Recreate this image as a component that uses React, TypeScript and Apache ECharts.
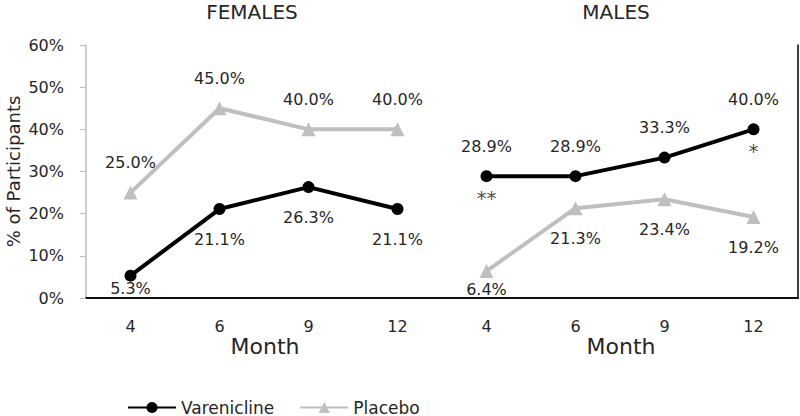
import React, { useEffect, useRef } from "react";
import * as echarts from "echarts";

const categories = ["4", "6", "9", "12", "4", "6", "9", "12"];
const femaleVarenicline = [5.3, 21.1, 26.3, 21.1];
const femalePlacebo = [25.0, 45.0, 40.0, 40.0];
const maleVarenicline = [28.9, 28.9, 33.3, 40.0];
const malePlacebo = [6.4, 21.3, 23.4, 19.2];
const maleVareniclineMarks = ["**", "", "", "*"];
const yMin = 0;
const yMax = 60;
const yStep = 10;
const groupTitles = ["FEMALES", "MALES"];
const xTitle = "Month";
const yTitle = "% of Participants";

const FONT = "DejaVu Sans";
const TEXT = "#262626";
const GRAY = "#BFBFBF";

const pad = (arr: (number | null)[], before: number, after: number) => [
  ...Array(before).fill(null),
  ...arr,
  ...Array(after).fill(null),
];

const fmt = (p: any) => {
  const v = Array.isArray(p.value) ? p.value[1] : p.value;
  return v == null ? "" : Number(v).toFixed(1) + "%";
};

export default function App() {
  const ref = useRef<HTMLDivElement>(null);
  useEffect(() => {
    if (!ref.current) return;
    const chart = echarts.init(ref.current, null, { renderer: "svg" });

    const labelBase = {
      show: true,
      formatter: fmt,
      fontFamily: FONT,
      fontSize: 16,
      color: TEXT,
    };

    const fv = femaleVarenicline.map((v, i) =>
      i === 0 ? { value: v, label: { distance: -1 } } : v
    );
    const mp = malePlacebo.map((v, i) =>
      i === 0 ? { value: v, label: { distance: 3 } } : v
    );
    const marks = maleVareniclineMarks.map((m, i) =>
      m ? { value: maleVarenicline[i], label: { formatter: m } } : null
    );

    const titleStyle = { fontFamily: FONT, fontSize: 20, fontWeight: "normal", color: TEXT };

    const option: any = {
      animation: false,
      backgroundColor: "#fff",
      title: [
        { text: groupTitles[0], left: 247, top: -3, textAlign: "center", textStyle: titleStyle },
        { text: groupTitles[1], left: 611, top: -3, textAlign: "center", textStyle: titleStyle },
      ],
      legend: {
        data: ["Varenicline", "Placebo"],
        left: 122,
        top: 394,
        itemWidth: 48,
        itemHeight: 14,
        itemGap: 25,
        textStyle: { fontFamily: FONT, fontSize: 17, color: TEXT },
      },
      grid: { left: 86, right: 2, top: 45, bottom: 118, containLabel: false, outerBoundsMode: "none" },
      xAxis: [
        {
          type: "category",
          data: categories,
          position: "bottom",
          boundaryGap: true,
          axisLine: { show: true, lineStyle: { color: "#000", width: 1.5 } },
          axisTick: { show: false },
          axisLabel: { fontFamily: FONT, fontSize: 16, color: TEXT, margin: 20 },
        },
        {
          type: "category",
          data: categories,
          position: "top",
          boundaryGap: true,
          axisLine: { show: true, lineStyle: { color: "#000", width: 1.5 } },
          axisTick: { show: false },
          axisLabel: { show: false },
        },
      ],
      yAxis: [
        {
          type: "value",
          min: yMin,
          max: yMax,
          interval: yStep,
          position: "left",
          name: yTitle,
          nameLocation: "middle",
          nameGap: 64,
          nameMoveOverlap: false,
          nameRotate: 90,
          nameTextStyle: { fontFamily: FONT, fontSize: 18, color: TEXT },
          axisLine: { show: true, lineStyle: { color: GRAY, width: 1.5 } },
          axisTick: { show: true, length: 6, lineStyle: { color: GRAY, width: 1 } },
          axisLabel: { fontFamily: FONT, fontSize: 16, color: TEXT, margin: 22, formatter: "{value}%" },
          splitLine: { show: false },
        },
        {
          type: "value",
          min: yMin,
          max: yMax,
          interval: yStep,
          position: "right",
          axisLine: { show: true, lineStyle: { color: "#000", width: 1.5 } },
          axisTick: { show: false },
          axisLabel: { show: false },
          splitLine: { show: false },
        },
      ],
      graphic: [
        {
          type: "text",
          x: 265,
          y: 346,
          style: { text: xTitle, fontFamily: FONT, fontSize: 22, fill: TEXT, align: "center", verticalAlign: "middle" },
        },
        {
          type: "text",
          x: 621,
          y: 346,
          style: { text: xTitle, fontFamily: FONT, fontSize: 22, fill: TEXT, align: "center", verticalAlign: "middle" },
        },
      ],
      series: [
        {
          name: "Varenicline",
          type: "line",
          data: pad(fv as any, 0, 4),
          symbol: "circle",
          symbolSize: 12,
          itemStyle: { color: "#000" },
          lineStyle: { color: "#000", width: 4 },
          label: { ...labelBase, position: "bottom", distance: 16 },
          z: 3,
        },
        {
          name: "Varenicline",
          type: "line",
          data: pad(maleVarenicline, 4, 0),
          symbol: "circle",
          symbolSize: 12,
          itemStyle: { color: "#000" },
          lineStyle: { color: "#000", width: 4 },
          label: { ...labelBase, position: "top", distance: 16 },
          z: 3,
        },
        {
          name: "Placebo",
          type: "line",
          data: pad(femalePlacebo, 0, 4),
          symbol: "triangle",
          symbolSize: 14,
          itemStyle: { color: GRAY },
          lineStyle: { color: GRAY, width: 4 },
          label: { ...labelBase, position: "top", distance: 15 },
          z: 2,
        },
        {
          name: "Placebo",
          type: "line",
          data: pad(mp as any, 4, 0),
          symbol: "triangle",
          symbolSize: 14,
          itemStyle: { color: GRAY },
          lineStyle: { color: GRAY, width: 4 },
          label: { ...labelBase, position: "bottom", distance: 15 },
          z: 2,
        },
        {
          name: "marks",
          type: "scatter",
          data: pad(marks as any, 4, 0),
          symbolSize: 12,
          itemStyle: { color: "rgba(0,0,0,0)" },
          label: {
            show: true,
            position: "bottom",
            distance: 6,
            fontFamily: FONT,
            fontSize: 20,
            color: "#1a1a1a",
          },
          silent: true,
          z: 1,
        },
      ],
    };
    chart.setOption(option);
    return () => chart.dispose();
  }, []);

  return (
    <div
      ref={ref}
      style={{ position: "fixed", left: 0, top: 0, width: 800, height: 416, background: "#fff" }}
    />
  );
}
